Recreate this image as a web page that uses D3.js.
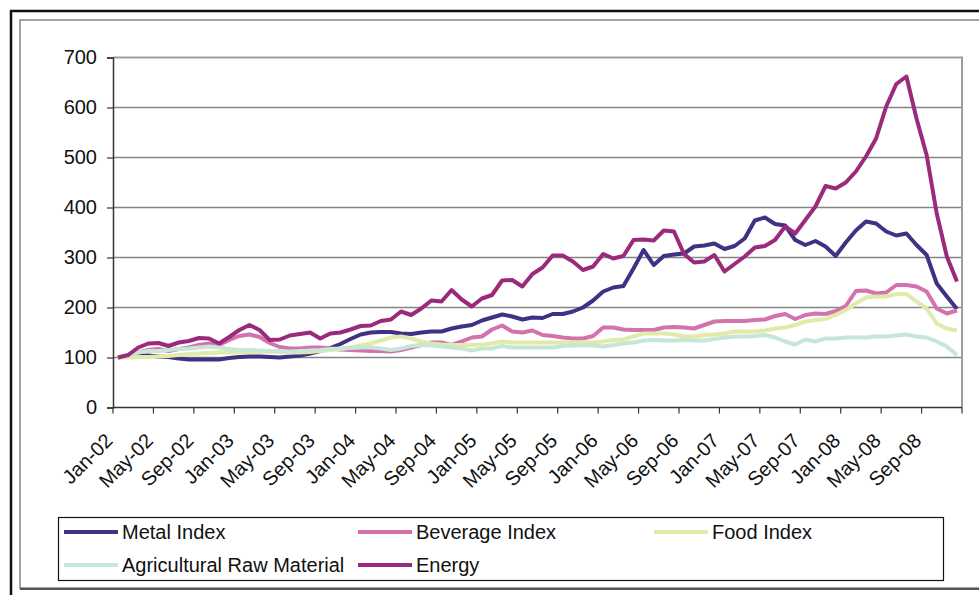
<!DOCTYPE html>
<html>
<head>
<meta charset="utf-8">
<script src="https://cdn.jsdelivr.net/npm/d3@7"></script>
<style>
  body { margin: 0; background: #fff; }
  svg text { font-family: "Liberation Sans", Arial, sans-serif; fill: #111; }
</style>
</head>
<body>
<div class="grafico"></div>
<script>
// categorias: meses Jan-02 .. Dec-08
var monthNames = ["Jan","Feb","Mar","Apr","May","Jun","Jul","Aug","Sep","Oct","Nov","Dec"];
var years = ["02","03","04","05","06","07","08"];
var months = [];
years.forEach(y => monthNames.forEach(m => months.push(m + "-" + y)));

var tickLabels = ["Jan-02","May-02","Sep-02","Jan-03","May-03","Sep-03","Jan-04","May-04","Sep-04",
  "Jan-05","May-05","Sep-05","Jan-06","May-06","Sep-06","Jan-07","May-07","Sep-07","Jan-08","May-08","Sep-08"];
var yTicks = [0, 100, 200, 300, 400, 500, 600, 700];

var metal = [100,103,104,104,102,101,98,96,96,96,96,99,101,102,102,101,100,102,104,108,113,119,127,137,
  146,150,151,151,148,147,150,152,152,158,162,165,174,180,186,182,176,180,179,187,187,192,200,214,
  232,240,243,278,315,285,303,306,308,322,324,328,317,323,338,374,380,367,364,335,325,333,322,303,
  330,354,372,368,352,344,348,325,305,248,222,197];
var beverage = [100,104,110,115,117,113,117,120,125,128,125,135,143,146,141,129,121,118,118,120,120,118,116,115,
  114,113,113,112,115,120,125,130,130,125,132,140,142,156,164,152,150,154,145,143,140,138,138,143,
  160,160,156,155,155,155,160,161,160,158,165,172,173,173,173,175,176,183,187,177,185,188,187,193,
  203,233,234,228,230,245,245,242,232,198,188,194];
var food = [100,100,101,101,102,103,105,107,108,109,110,110,110,111,111,112,111,110,110,111,113,115,117,120,
  124,128,134,140,142,138,132,128,126,125,125,125,126,128,132,130,130,130,130,130,130,130,130,130,
  132,135,136,142,148,148,148,146,142,142,145,146,148,152,152,152,154,158,160,165,172,175,177,185,
  195,208,220,222,222,227,227,212,198,168,158,154];
var agri = [100,104,110,113,113,115,117,118,120,122,120,117,115,115,114,113,113,112,113,114,115,117,118,119,
  120,120,118,115,118,123,125,124,122,120,118,114,118,118,123,120,120,120,120,120,123,124,124,124,
  122,125,128,130,134,135,134,134,135,134,134,137,140,142,142,143,145,140,132,126,136,132,138,138,
  140,140,140,142,142,144,146,142,140,132,122,105];
var energy = [100,105,120,128,129,123,130,133,139,138,128,141,155,165,155,135,136,144,147,150,138,148,150,156,
  163,164,173,176,192,185,198,214,212,235,216,202,218,225,254,255,242,267,280,304,304,292,275,282,
  307,298,303,335,336,334,354,352,307,290,292,305,272,287,302,320,323,335,362,348,375,402,443,438,
  450,472,502,538,602,647,662,578,505,388,302,252];

var seriesNames = ["Metal Index","Beverage Index","Food Index","Agricultural Raw Material","Energy"];
var seriesValues = [metal, beverage, food, agri, energy];
var colores = ["#3f3183","#d472ad","#e2eaa9","#c6e6d6","#9b2a7c"];

var W = 979, H = 595;
var plot = { left: 113, right: 962, top: 57.5, bottom: 407.5 };

var svg = d3.select(".grafico").append("svg")
  .attr("width", W).attr("height", H);

// marcos exteriores
svg.append("rect").attr("x", 11).attr("y", 11).attr("width", 1000).attr("height", 600)
  .attr("fill", "none").attr("stroke", "#111").attr("stroke-width", 2.5);
svg.append("rect").attr("x", 20).attr("y", 20).attr("width", 1000).attr("height", 568)
  .attr("fill", "none").attr("stroke", "#666").attr("stroke-width", 1.2);
svg.append("line").attr("x1", 20).attr("x2", 979).attr("y1", 589).attr("y2", 589)
  .attr("stroke", "#555").attr("stroke-width", 2);

// escalas
var x = d3.scaleBand().domain(months).range([plot.left, plot.right]).padding(0);
var y = d3.scaleLinear().domain([0, 700]).range([plot.bottom, plot.top]);

// lineas de grilla
svg.append("g").selectAll("line").data(yTicks.filter(d => d > 0 && d < 700)).enter()
  .append("line")
  .attr("x1", plot.left).attr("x2", plot.right)
  .attr("y1", d => y(d)).attr("y2", d => y(d))
  .attr("stroke", "#858585").attr("stroke-width", 1.5);

// borde del area
svg.append("path")
  .attr("d", "M" + plot.left + "," + y(700) + "H" + plot.right + "V" + y(0))
  .attr("fill", "none").attr("stroke", "#a39b95").attr("stroke-width", 2);

// eje y
var yAxis = svg.append("g")
  .attr("transform", "translate(" + plot.left + ",0)")
  .call(d3.axisLeft(y).tickValues(yTicks).tickSize(6).tickPadding(10));
yAxis.select(".domain").attr("stroke", "#3a3232").attr("stroke-width", 1.5);
yAxis.selectAll(".tick line").attr("stroke", "#3a3232").attr("stroke-width", 1.2);
yAxis.selectAll("text").style("font-size", "20px").attr("fill", "#111");

// eje x (marcas entre categorias, cada 4 meses)
var tickPos = months.filter((m, i) => i % 4 === 0).map(m => x(m)).concat([plot.right]);
svg.append("line").attr("x1", plot.left).attr("x2", plot.right)
  .attr("y1", y(0)).attr("y2", y(0)).attr("stroke", "#3a3232").attr("stroke-width", 1.5);
svg.append("g").selectAll("line").data(tickPos).enter().append("line")
  .attr("x1", d => d).attr("x2", d => d)
  .attr("y1", y(0)).attr("y2", y(0) + 6)
  .attr("stroke", "#3a3232").attr("stroke-width", 1.2);
svg.append("g").selectAll("text").data(tickLabels).enter().append("text")
  .attr("transform", (d, i) => "translate(" + (x(months[i * 4]) - 4) + "," + 437 + ") rotate(-45)")
  .attr("text-anchor", "end")
  .attr("dy", "0.35em")
  .style("font-size", "20px")
  .text(d => d);

// series
var line = d3.line()
  .x((d, i) => x(months[i]) + x.bandwidth() / 2)
  .y(d => y(d));

seriesValues.forEach((vals, k) => {
  svg.append("path")
    .datum(vals)
    .attr("fill", "none")
    .attr("stroke", colores[k])
    .attr("stroke-width", 4)
    .attr("stroke-linejoin", "round")
    .attr("d", line);
});

// leyenda
svg.append("rect").attr("x", 58.5).attr("y", 517.5).attr("width", 885).attr("height", 63)
  .attr("fill", "#fff").attr("stroke", "#111").attr("stroke-width", 1.2);
var legPos = [[64, 532], [358, 532], [654, 532], [64, 565], [358, 565]];
seriesNames.forEach((n, k) => {
  var p = legPos[k];
  svg.append("line").attr("x1", p[0]).attr("x2", p[0] + 54)
    .attr("y1", p[1]).attr("y2", p[1])
    .attr("stroke", colores[k]).attr("stroke-width", 4);
  svg.append("text").attr("x", p[0] + 58).attr("y", p[1]).attr("dy", "0.35em")
    .style("font-size", "20px").text(n);
});
</script>
</body>
</html>
